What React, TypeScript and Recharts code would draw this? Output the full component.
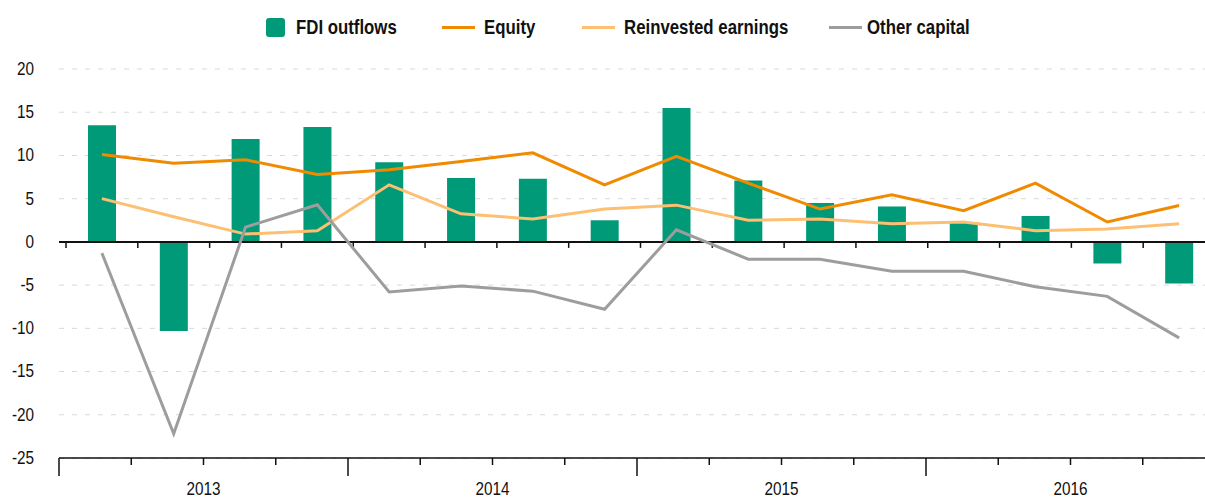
import React from 'react'
import { ComposedChart, Bar, Line, XAxis, YAxis, CartesianGrid, ReferenceLine } from 'recharts'

const quarters = [
  '2013Q1', '2013Q2', '2013Q3', '2013Q4',
  '2014Q1', '2014Q2', '2014Q3', '2014Q4',
  '2015Q1', '2015Q2', '2015Q3', '2015Q4',
  '2016Q1', '2016Q2', '2016Q3', '2016Q4',
]
const years = ['2013', '2014', '2015', '2016']

const fdiOutflows = [13.5, -10.3, 11.9, 13.3, 9.2, 7.4, 7.3, 2.5, 15.5, 7.1, 4.5, 4.1, 2.3, 3.0, -2.5, -4.8]
const equity = [10.1, 9.1, 9.5, 7.8, 8.35, 9.3, 10.3, 6.6, 9.9, 6.8, 3.8, 5.45, 3.6, 6.8, 2.3, 4.2]
const reinvested = [5.0, 2.9, 0.9, 1.3, 6.6, 3.25, 2.65, 3.8, 4.25, 2.5, 2.65, 2.1, 2.3, 1.3, 1.5, 2.1]
const otherCapital = [-1.3, -22.2, 1.7, 4.3, -5.8, -5.1, -5.7, -7.8, 1.4, -2.0, -2.0, -3.4, -3.4, -5.2, -6.3, -11.1]

const yTicks = [20, 15, 10, 5, 0, -5, -10, -15, -20, -25]

const COLORS = {
  fdi: '#009a78',
  equity: '#f08a00',
  reinvested: '#fdbf72',
  other: '#9d9d9d',
}

// no condensed font installed, so Liberation Sans squeezed horizontally (like Arial Narrow)
const FONT = '"Liberation Sans", Arial, sans-serif'
const TICK_SQUEEZE = 0.85

const chartData = quarters.map((q, i) => ({
  quarter: q,
  fdi: fdiOutflows[i],
  equity: equity[i],
  reinvested: reinvested[i],
  other: otherCapital[i],
}))

const CAT_PADDING = 7

function NarrowText({ x, y, anchor, children }: any) {
  return (
    <g transform={`translate(${x},${y})`}>
      <text
        transform={`scale(${TICK_SQUEEZE},1)`}
        textAnchor={anchor}
        dominantBaseline="central"
        fill="#111"
        fontSize={18}
        fontFamily={FONT}
      >
        {children}
      </text>
    </g>
  )
}

function ValueTick(props: any) {
  const { x, y, payload } = props
  return <NarrowText x={x} y={y} anchor="end">{payload.value}</NarrowText>
}

// bottom axis: a tick at the start of every quarter band, long ones at year starts,
// the year written at the start of the third quarter (middle of the year)
function YearTick(props: any) {
  const { x, y, payload, index } = props
  const half = payload.offset ?? 0
  const left = x - half
  const right = x + half
  const i = index as number
  return (
    <g>
      <line x1={left} x2={left} y1={y} y2={y + (i % 4 === 0 ? 18 : 7)} stroke="#111" strokeWidth={1.5} />
      {i === quarters.length - 1 && (
        <line x1={right} x2={right} y1={y} y2={y + 18} stroke="#111" strokeWidth={1.5} />
      )}
      {i % 4 === 2 && (
        <NarrowText x={left} y={y + 31} anchor="middle">{years[Math.floor(i / 4)]}</NarrowText>
      )}
    </g>
  )
}

// zero line with small ticks between the quarters
function ZeroLine(props: any) {
  const { x1, x2, y1 } = props
  const left = Math.min(x1, x2)
  const right = Math.max(x1, x2)
  const step = (right - left - CAT_PADDING) / quarters.length
  return (
    <g>
      <line x1={left} x2={right} y1={y1} y2={y1} stroke="#111" strokeWidth={2} />
      {quarters.map((q, i) => (
        <line key={q} x1={left + CAT_PADDING + i * step} x2={left + CAT_PADDING + i * step} y1={y1} y2={y1 + 6} stroke="#111" strokeWidth={1.5} />
      ))}
    </g>
  )
}

const legendItems = [
  { label: 'FDI outflows', color: COLORS.fdi, kind: 'square', left: 266, gap: 11 },
  { label: 'Equity', color: COLORS.equity, kind: 'line', left: 442, gap: 9 },
  { label: 'Reinvested earnings', color: COLORS.reinvested, kind: 'line', left: 582, gap: 9 },
  { label: 'Other capital', color: COLORS.other, kind: 'line', left: 829, gap: 5 },
]

function ChartLegend() {
  return (
    <>
      {legendItems.map((it) => (
        <div
          key={it.label}
          style={{ position: 'absolute', top: 0, left: it.left, height: 54, display: 'flex', alignItems: 'center', zIndex: 1 }}
        >
          {it.kind === 'square' ? (
            <span style={{ width: 19, height: 19, borderRadius: 3, background: it.color, display: 'inline-block' }} />
          ) : (
            <span style={{ width: 33, height: 3, background: it.color, display: 'inline-block' }} />
          )}
          <span
            style={{
              marginLeft: it.gap, fontSize: 21, fontWeight: 700, color: '#111', whiteSpace: 'nowrap',
              display: 'inline-block', transform: 'scaleX(0.8)', transformOrigin: 'left center',
            }}
          >
            {it.label}
          </span>
        </div>
      ))}
    </>
  )
}

export default function App() {
  return (
    <div
      style={{
        position: 'absolute', left: 0, top: 0, width: 1205, height: 498,
        overflow: 'hidden', background: '#fff', fontFamily: FONT,
      }}
    >
      <ChartLegend />
      <ComposedChart width={1215} height={498} data={chartData} margin={{ top: 69, right: 0, bottom: 0, left: 0 }}>
        <CartesianGrid vertical={false} stroke="#d9d9d9" strokeDasharray="5 8" />
        <XAxis dataKey="quarter" hide height={0} padding={{ left: CAT_PADDING, right: 0 }} />
        <XAxis
          xAxisId="year"
          dataKey="quarter"
          height={40}
          axisLine={{ stroke: '#111', strokeWidth: 1.5 }}
          tickLine={false}
          tickSize={0}
          tickMargin={0}
          tick={<YearTick />}
          interval={0}
        />
        <YAxis
          domain={[-25, 20]}
          ticks={yTicks}
          width={59}
          axisLine={false}
          tickLine={false}
          tickSize={0}
          tickMargin={25}
          interval={0}
          tick={<ValueTick />}
        />
        <Bar dataKey="fdi" name="FDI outflows" fill={COLORS.fdi} barSize={28} isAnimationActive={false} />
        <ReferenceLine y={0} shape={<ZeroLine />} />
        <Line dataKey="reinvested" name="Reinvested earnings" stroke={COLORS.reinvested} strokeWidth={3} dot={false} type="linear" isAnimationActive={false} />
        <Line dataKey="equity" name="Equity" stroke={COLORS.equity} strokeWidth={3} dot={false} type="linear" isAnimationActive={false} />
        <Line dataKey="other" name="Other capital" stroke={COLORS.other} strokeWidth={3} dot={false} type="linear" isAnimationActive={false} />
      </ComposedChart>
    </div>
  )
}
